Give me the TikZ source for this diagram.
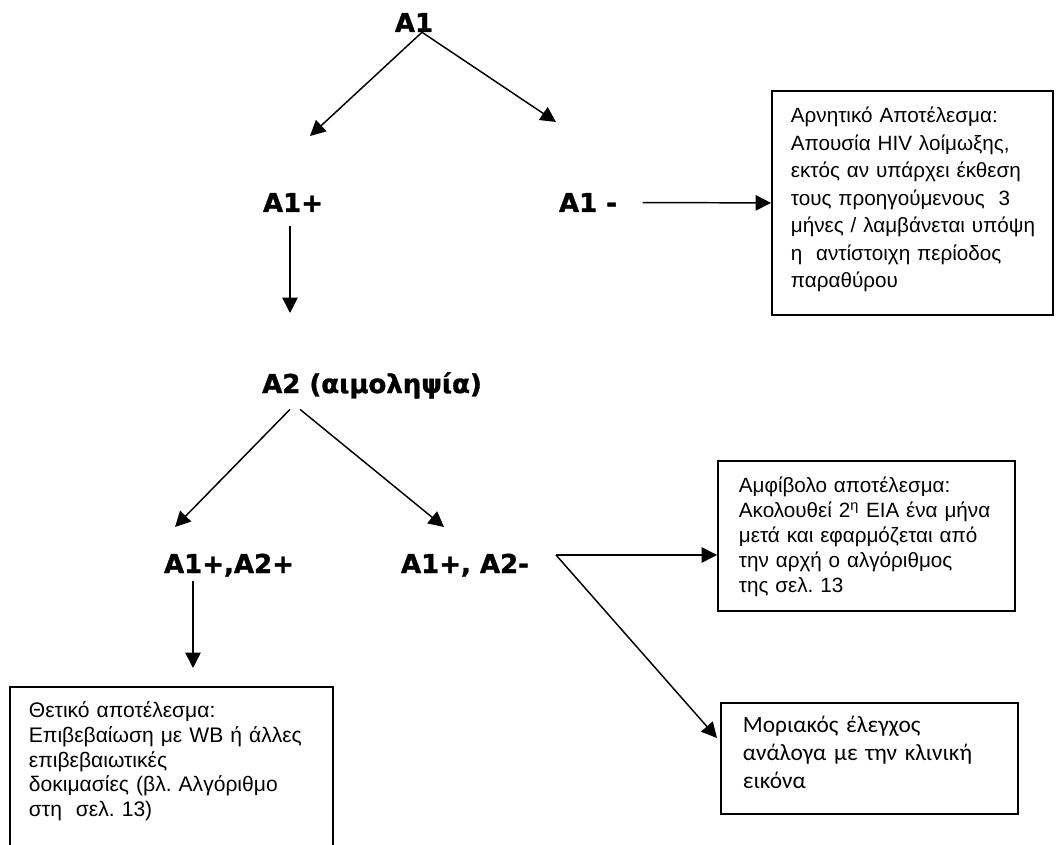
\documentclass[tikz,border=0pt]{standalone}
\usepackage{fontspec}
\setmainfont{Liberation Sans}
\newfontfamily\stagefont{DejaVu Sans}[BoldFeatures={FakeBold=1.3}]
\newfontfamily\carlitofont{Carlito}
\frenchspacing
\usepackage{tikz}
\usetikzlibrary{arrows.meta}
\tikzstyle{stage} = [inner sep=0pt, anchor=base, font=\stagefont\bfseries\fontsize{19.5}{23}\selectfont]
\tikzstyle{result} = [draw, line width=1.4pt, anchor=north west, inner sep=0pt, execute at begin node={\raggedright\leftskip=14.25pt}]
\tikzstyle{arrow} = [line width=1.1pt, -{Triangle[length=11.5pt,width=11.5pt]}]

\begin{document}
\begin{tikzpicture}[x=0.75pt, y=-0.75pt]
\useasboundingbox (0,0) rectangle (1061,845);
\clip (0,0) rectangle (1061,845);

% Stages
\node (a1) [stage] at (414,32) {A1};
\node (a1p) [stage] at (293,212) {A1+};
\node (a1m) [stage] at (588,212) {A1 -};
\node (a2) [stage] at (372,393) {A2 (αιμοληψία)};
\node (a2p) [stage] at (229,573) {A1+,A2+};
\node (a2m) [stage] at (465,573) {A1+, A2-};

% Results
\node (neg) [result, text width=210.75pt, text height=24pt, text depth=144pt,
  font=\fontsize{15.5}{20.6}\selectfont] at (771,90)
  {Αρνητικό Αποτέλεσμα:\\Απουσία HIV λοίμωξης,\\εκτός αν υπάρχει έκθεση\\τους προηγούμενους\ \ 3\\μήνες / λαμβάνεται υπόψη\\η\ \ αντίστοιχη περίοδος\\παραθύρου};
\node (doubt) [result, text width=222.75pt, text height=24pt, text depth=88.5pt,
  font=\fontsize{15.5}{18.75}\selectfont,
  execute at begin node={\raggedright\leftskip=15.75pt}] at (717,460)
  {Αμφίβολο αποτέλεσμα:\\Ακολουθεί 2\textsuperscript{η} EIA ένα μήνα\\μετά και εφαρμόζεται από\\την αρχή ο αλγόριθμος\\της σελ. 13};
\node (pos) [result, text width=242.25pt, text height=23.25pt, text depth=114.75pt,
  font=\fontsize{15.8}{18.4}\selectfont] at (9,686)
  {Θετικό αποτέλεσμα:\\Επιβεβαίωση με WB ή άλλες\\επιβεβαιωτικές\\δοκιμασίες (βλ. Αλγόριθμο\\στη\ \ σελ. 13)};
\node (mol) [result, text width=222.75pt, text height=22.5pt, text depth=60.75pt,
  font=\carlitofont\fontsize{17.5}{21}\selectfont,
  execute at begin node={\raggedright\leftskip=16.5pt}] at (720,702)
  {Μοριακός έλεγχος\\ανάλογα με την κλινική\\εικόνα};

% Arrow ends
\coordinate (p1) at (310,136);
\coordinate (p2) at (556,122);
\coordinate (p3) at (290,313);
\coordinate (p4) at (175,527);
\coordinate (p5) at (444,527);
\coordinate (p6) at (193,668);
\coordinate (split) at (556,555);
\coordinate (p7) at (717,738);

% Arrows
\draw [arrow] ([xshift=6pt]a1.south) -- (p1);
\draw [arrow] ([xshift=6pt]a1.south) -- (p2);
\draw [arrow] ([xshift=-2.25pt,yshift=-10.5pt]a1p.south) -- (p3);
\draw [arrow] ([xshift=19pt]a1m.east) -- (neg.west);
\draw [arrow] ([xshift=-61.5pt,yshift=-8pt]a2.south) -- (p4);
\draw [arrow] ([xshift=-54pt,yshift=-8pt]a2.south) -- (p5);
\draw [arrow] ([xshift=-27pt,yshift=-3.3pt]a2p.south) -- (p6);
\draw [arrow] (split) -- (split -| doubt.west);
\draw [arrow] (split) -- (p7);

\end{tikzpicture}
\end{document}
